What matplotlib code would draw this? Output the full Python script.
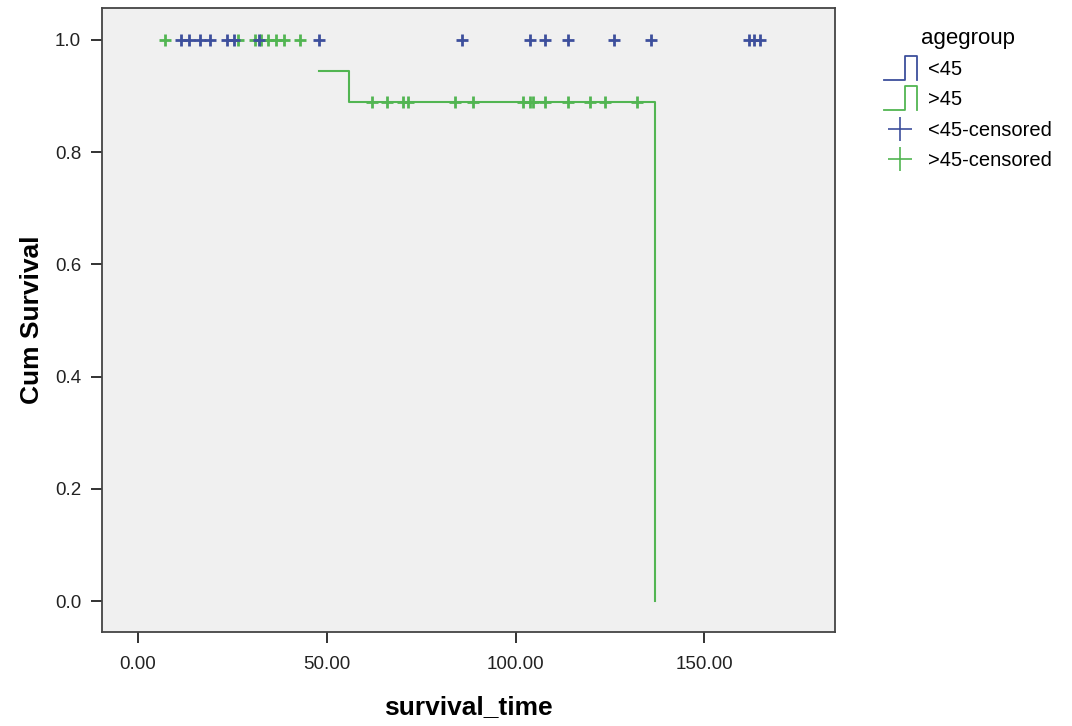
import matplotlib
matplotlib.use("Agg")
import matplotlib.pyplot as plt
from matplotlib.legend_handler import HandlerBase
from matplotlib.lines import Line2D

plt.rcParams['font.family'] = ['Liberation Sans', 'DejaVu Sans']

# Kaplan-Meier step curve for >45 group (no events in <45 group)
gt45_times = [48.0, 56.0, 136.8]
gt45_surv = [0.944, 0.889, 0.0]

# censored cases
lt45_cens_t = [11.5, 13.5, 16.5, 19.0, 23.5, 25.5, 32.0, 48.0, 85.8, 103.8,
               107.8, 113.9, 126.1, 135.9, 161.8, 163.1, 164.7]
lt45_cens_s = [1.0] * len(lt45_cens_t)
gt45_cens_t = [7.2, 26.5, 31.0, 32.5, 34.5, 36.5, 38.7, 42.9,
               61.9, 66.0, 70.1, 71.6, 83.9, 88.8, 102.0, 103.8, 104.7,
               107.8, 114.0, 119.7, 123.7, 132.1]
gt45_cens_s = [1.0] * 8 + [0.889] * 14

blue = '#3d4f9c'
green = '#52b552'


class HandlerStep(HandlerBase):
    def create_artists(self, legend, orig_handle, xdescent, ydescent,
                       width, height, fontsize, trans):
        x0, x1 = -xdescent, -xdescent + width
        y0, y1 = -ydescent - 0.35 * height, -ydescent + 1.35 * height
        xs = [x0, x0 + 0.65 * width, x0 + 0.65 * width, x1, x1]
        ys = [y0, y0, y1, y1, y0]
        ln = Line2D(xs, ys, color=orig_handle.get_color(), lw=1.3, transform=trans)
        return [ln]


fig = plt.figure(figsize=(10.72, 7.26), dpi=100)
ax = fig.add_axes([0.0951, 0.1295, 0.684, 0.8595])
ax.set_facecolor('#f0f0f0')

# step line for >45
xs = [gt45_times[0]]
ys = [gt45_surv[0]]
for i in range(1, len(gt45_times)):
    xs += [gt45_times[i], gt45_times[i]]
    ys += [gt45_surv[i - 1], gt45_surv[i]]
ax.plot(xs, ys, color=green, lw=1.5)

ax.plot(gt45_cens_t, gt45_cens_s, linestyle='none', marker='+', ms=9, mew=2, color=green)
ax.plot(lt45_cens_t, lt45_cens_s, linestyle='none', marker='+', ms=9, mew=2, color=blue)

ax.set_xlim(-9.5, 184.6)
ax.set_ylim(-0.055, 1.057)
ax.set_xticks([0, 50, 100, 150])
ax.set_xticklabels(['0.00', '50.00', '100.00', '150.00'])
ax.set_yticks([0.0, 0.2, 0.4, 0.6, 0.8, 1.0])
ax.set_yticklabels(['0.0', '0.2', '0.4', '0.6', '0.8', '1.0'])
ax.tick_params(direction='out', length=8, width=1.3, labelsize=13.5, colors='#222222', pad=7)
ax.tick_params(axis='x', pad=9)
for s in ax.spines.values():
    s.set_color('#444444')
    s.set_linewidth(1.3)

ax.set_xlabel('survival_time', fontsize=19, fontweight='bold', labelpad=16)
ax.set_ylabel('Cum Survival', fontsize=19, fontweight='bold', labelpad=8)

h1 = Line2D([], [], color=blue)
h2 = Line2D([], [], color=green)
h3 = Line2D([], [], color=blue, marker='+', linestyle='none', ms=17, mew=1.2)
h4 = Line2D([], [], color=green, marker='+', linestyle='none', ms=17, mew=1.2)
leg = ax.legend([h1, h2, h3, h4], ['<45', '>45', '<45-censored', '>45-censored'],
                title='agegroup', loc='upper left', bbox_to_anchor=(1.047, 0.99),
                frameon=False, fontsize=14.5, title_fontsize=16,
                handler_map={h1: HandlerStep(), h2: HandlerStep()},
                handlelength=1.65, handletextpad=0.55, labelspacing=0.55, borderaxespad=0.3)

fig.savefig('out.png', dpi=100, facecolor='white')
